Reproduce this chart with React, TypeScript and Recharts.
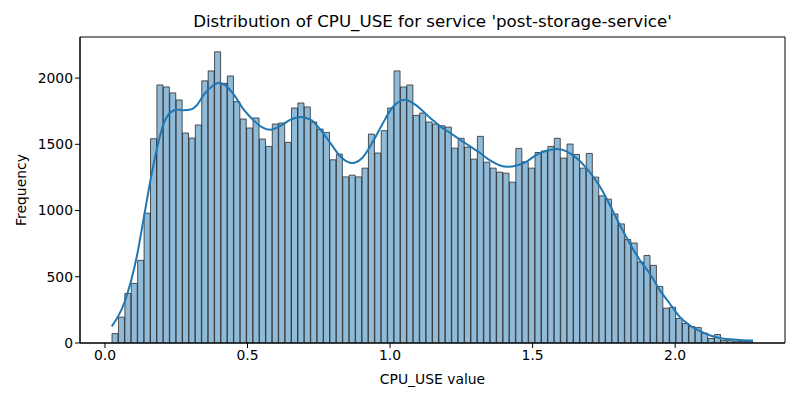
import React from 'react';
import {
  ComposedChart,
  Bar,
  Line,
  XAxis,
  YAxis,
  ReferenceArea,
} from 'recharts';

// histogram bins (CPU_USE value)
const binStart = 0.0249;
const binWidth = 0.02248;
const binCounts = [
  71, 195, 374, 450, 624, 980, 1542, 1948, 1933, 1888,
  1835, 1585, 1547, 1646, 1979, 2054, 2198, 1960, 2016, 1822,
  1691, 1623, 1699, 1540, 1484, 1653, 1661, 1514, 1774, 1812,
  1782, 1668, 1615, 1590, 1383, 1426, 1254, 1267, 1254, 1320,
  1577, 1434, 1603, 1774, 2054, 1933, 1948, 1718, 1736, 1668,
  1653, 1640, 1630, 1471, 1545, 1479, 1388, 1560, 1365, 1320,
  1290, 1282, 1214, 1469, 1368, 1320, 1438, 1449, 1484, 1545,
  1396, 1502, 1423, 1320, 1431, 1252, 1111, 1086, 974, 899,
  782, 755, 611, 661, 586, 427, 263, 270, 185, 147,
  124, 116, 74, 34, 64, 18, 17, 13, 13, 14,
];

// kde curve
const kdeX = [
  0.024, 0.067, 0.114, 0.137, 0.160, 0.184, 0.207, 0.230, 0.254, 0.277,
  0.300, 0.324, 0.347, 0.376, 0.400, 0.423, 0.452, 0.487, 0.522, 0.550,
  0.581, 0.616, 0.651, 0.686, 0.721, 0.756, 0.791, 0.826, 0.867, 0.902,
  0.937, 0.972, 1.007, 1.053, 1.088, 1.141, 1.176, 1.211, 1.246, 1.281,
  1.316, 1.351, 1.386, 1.411, 1.444, 1.479, 1.514, 1.549, 1.584, 1.619,
  1.654, 1.689, 1.736, 1.771, 1.806, 1.841, 1.876, 1.911, 1.946, 1.981,
  2.016, 2.051, 2.086, 2.121, 2.156, 2.191, 2.226, 2.273,
];
const kdeY = [
  126, 298, 677, 954, 1232, 1484, 1661, 1741, 1762, 1757,
  1762, 1800, 1875, 1938, 1964, 1943, 1875, 1762, 1680, 1630,
  1610, 1640, 1686, 1706, 1686, 1610, 1509, 1408, 1358, 1396,
  1509, 1648, 1774, 1837, 1800, 1699, 1635, 1585, 1534, 1484,
  1434, 1378, 1340, 1330, 1340, 1370, 1421, 1451, 1464, 1446,
  1396, 1320, 1181, 1042, 891, 752, 626, 525, 399, 298,
  197, 134, 91, 58, 38, 28, 23, 18,
];

const xTicks = [0, 0.5, 1.0, 1.5, 2.0];
const yTicks = [0, 500, 1000, 1500, 2000];

const histData = binCounts.map((count, i) => ({
  x: binStart + (i + 0.5) * binWidth,
  count,
}));
const kdeData = kdeX.map((x, i) => ({ x, density: kdeY[i] }));

const binsMax = binStart + binCounts.length * binWidth;
const pad = (binsMax - binStart) * 0.05;
const xDomain: [number, number] = [binStart - pad, binsMax + pad];
const yDomain: [number, number] = [0, 2310];

const font = '"DejaVu Sans", sans-serif';
const tickStyle = { fontSize: 13.9, fill: '#000', fontFamily: font };

export default function App() {
  return (
    <div style={{ position: 'fixed', left: 0, top: 0, width: 800, height: 400, background: '#fff', fontFamily: font }}>
      <div
        style={{
          position: 'absolute', top: 11, left: 80, width: 705,
          textAlign: 'center', fontSize: 16.7, color: '#000', lineHeight: '20px',
        }}
      >
        Distribution of CPU_USE for service 'post-storage-service'
      </div>
      <div
        style={{
          position: 'absolute', left: 21, top: 190, fontSize: 13.9, color: '#000',
          transform: 'translate(-50%, -50%) rotate(-90deg)', whiteSpace: 'nowrap',
        }}
      >
        Frequency
      </div>
      <ComposedChart
        width={800}
        height={400}
        data={histData}
        margin={{ top: 37, right: 15, bottom: 0, left: 0 }}
        barCategoryGap={0}
        barGap={0}
      >
        <XAxis
          xAxisId="bins"
          dataKey="x"
          type="number"
          domain={xDomain}
          ticks={xTicks}
          tickFormatter={(v: number) => v.toFixed(1)}
          allowDataOverflow
          height={57}
          tick={tickStyle}
          tickSize={5}
          tickMargin={2}
          stroke="#000"
          label={{ value: 'CPU_USE value', position: 'insideBottom', offset: 16, style: { fontSize: 13.9, fill: '#000', fontFamily: font } }}
        />
        <XAxis xAxisId="kde" dataKey="x" type="number" domain={xDomain} allowDataOverflow hide />
        <YAxis
          type="number"
          domain={yDomain}
          ticks={yTicks}
          allowDataOverflow
          width={80}
          tick={tickStyle}
          tickSize={5}
          tickMargin={2}
          stroke="#000"
        />
        <Bar
          xAxisId="bins"
          dataKey="count"
          fill="#1f77b4"
          fillOpacity={0.5}
          stroke="#2b2b2b"
          strokeWidth={0.8}
          isAnimationActive={false}
        />
        <Line
          xAxisId="kde"
          data={kdeData}
          dataKey="density"
          type="monotone"
          stroke="#1f77b4"
          strokeWidth={2}
          dot={false}
          activeDot={false}
          isAnimationActive={false}
        />
        <ReferenceArea
          xAxisId="bins"
          x1={xDomain[0]}
          x2={xDomain[1]}
          y1={yDomain[0]}
          y2={yDomain[1]}
          fill="none"
          stroke="#000"
          strokeWidth={1}
          ifOverflow="visible"
        />
      </ComposedChart>
    </div>
  );
}
